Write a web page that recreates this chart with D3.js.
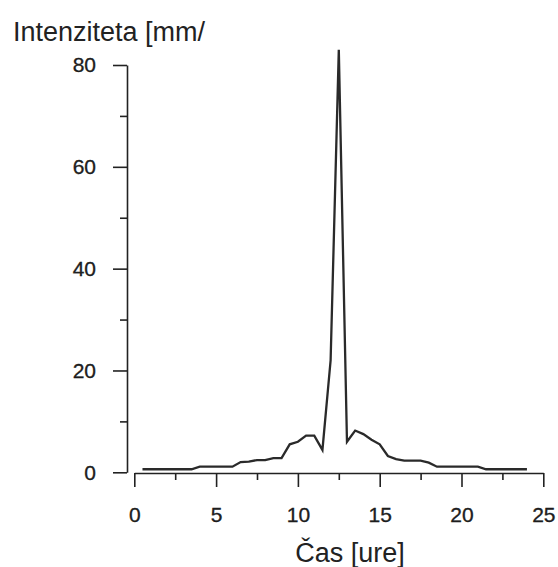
<!DOCTYPE html>
<html>
<head>
<meta charset="utf-8">
<script src="https://cdn.jsdelivr.net/npm/d3@7"></script>
<style>
  body { margin: 0; background: #fff; }
  text { font-family: "Liberation Sans", Arial, Helvetica, sans-serif; fill: #222; }
</style>
</head>
<body>
<script>
// hours (every half hour) and rain intensity [mm/h]
var hours = [0.5, 1, 1.5, 2, 2.5, 3, 3.5, 4, 4.5, 5, 5.5, 6,
             6.5, 7, 7.5, 8, 8.5, 9, 9.5, 10, 10.5, 11, 11.5, 12,
             12.5, 13, 13.5, 14, 14.5, 15, 15.5, 16, 16.5, 17, 17.5, 18,
             18.5, 19, 19.5, 20, 20.5, 21, 21.5, 22, 22.5, 23, 23.5, 24];
var intensity = [0.6, 0.6, 0.6, 0.6, 0.6, 0.6, 0.6, 1.1, 1.1, 1.1, 1.1, 1.1,
                 2.0, 2.1, 2.4, 2.4, 2.8, 2.8, 5.5, 6.0, 7.2, 7.2, 4.4, 22,
                 83, 6.0, 8.2, 7.5, 6.4, 5.5, 3.2, 2.6, 2.3, 2.3, 2.3, 1.9,
                 1.1, 1.1, 1.1, 1.1, 1.1, 1.1, 0.6, 0.6, 0.6, 0.6, 0.6, 0.6];

var xMajor = [0, 5, 10, 15, 20, 25];
var xMinor = [2.5, 7.5, 12.5, 17.5, 22.5];
var yMajor = [0, 20, 40, 60, 80];
var yMinor = [10, 30, 50, 70];

var yTitle = 'Intenziteta [mm/';
var xTitle = 'Čas [ure]';

var WIDTH  = 558;
var HEIGHT = 567;

var svg = d3.select('body')
            .append('svg')
            .attr('width', WIDTH)
            .attr('height', HEIGHT);

var x = d3.scaleLinear()
          .domain([0, 25])
          .range([134.3, 543.3]);

var y = d3.scaleLinear()
          .domain([0, 80])
          .range([472.3, 65]);

// y axis
svg.append('g')
   .attr('transform', 'translate(127,0)')
   .call(d3.axisLeft(y).tickValues(yMajor).tickSize(14)
           .tickSizeOuter(0).tickPadding(17));
svg.append('g')
   .attr('transform', 'translate(127,0)')
   .call(d3.axisLeft(y).tickValues(yMinor).tickSize(7)
           .tickSizeOuter(0).tickFormat(''))
   .select('.domain').remove();

// x axis
svg.append('g')
   .attr('transform', 'translate(0,473)')
   .call(d3.axisBottom(x).tickValues(xMajor).tickSize(14)
           .tickSizeOuter(0).tickPadding(20));
svg.append('g')
   .attr('transform', 'translate(0,473)')
   .call(d3.axisBottom(x).tickValues(xMinor).tickSize(7)
           .tickSizeOuter(0).tickFormat(''))
   .select('.domain').remove();

svg.selectAll('.domain, .tick line')
   .attr('stroke', '#222')
   .attr('stroke-width', 1.6);

svg.selectAll('.tick text')
   .attr('font-size', 21)
   .attr('fill', '#111')
   .attr('stroke', '#111')
   .attr('stroke-width', 0.3);

// the series
var line = d3.line()
             .x(function(d, i) { return x(hours[i]); })
             .y(function(d) { return y(d); });

svg.append('path')
   .datum(intensity)
   .attr('d', line)
   .attr('fill', 'none')
   .attr('stroke', '#2a2a2a')
   .attr('stroke-width', 2.3)
   .attr('stroke-linejoin', 'miter');

// titles
svg.append('text')
   .attr('x', 13)
   .attr('y', 41)
   .attr('font-size', 27)
   .text(yTitle);

svg.append('text')
   .attr('x', 350)
   .attr('y', 562)
   .attr('text-anchor', 'middle')
   .attr('font-size', 27)
   .text(xTitle);
</script>
</body>
</html>
